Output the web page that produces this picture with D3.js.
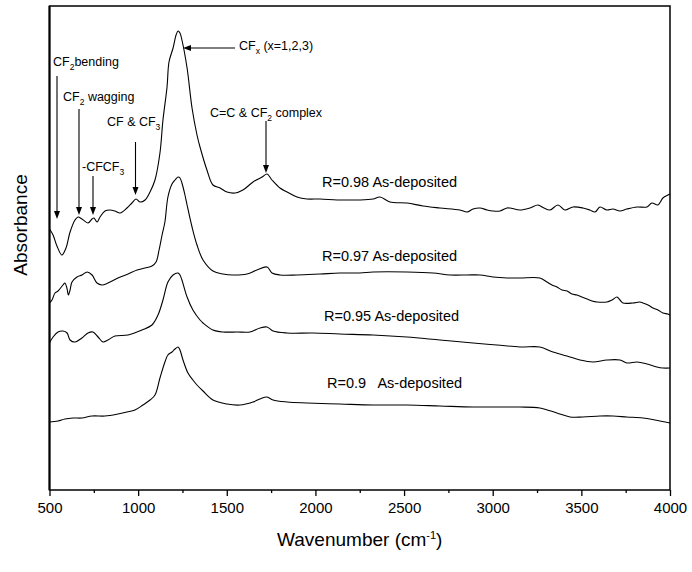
<!DOCTYPE html>
<html>
<head>
<meta charset="utf-8">
<script src="https://cdn.jsdelivr.net/npm/d3@7/dist/d3.min.js"></script>
<style>
  html, body { margin: 0; padding: 0; background: #fff; }
  svg { display: block; }
  text { font-family: "Liberation Sans", Arial, sans-serif; fill: #000; }
</style>
</head>
<body>
<svg id="chart" width="692" height="572"></svg>
<script>
// ---- data (wavenumber cm-1, absorbance a.u., stacked) ----
const majorTicks = [500, 1000, 1500, 2000, 2500, 3000, 3500, 4000];
const minorTicks = [750, 1250, 1750, 2250, 2750, 3250, 3750];

const r098 = [[500,261],[520,255],[542,244],[570,235],[593,242],[616,258],[644,270],[661,273],[683,271],[717,267],[740,271],[751,272],[768,268],[785,273],[813,279],[841,280],[869,279],[898,277],[937,282],[965,287],[988,291],[1010,288],[1039,290],[1067,298],[1095,310],[1123,337],[1140,370],[1163,403],[1174,428],[1197,442],[1214,455],[1225,459],[1236,457],[1247,450],[1276,422],[1304,382],[1332,355],[1349,343],[1388,320],[1422,305],[1462,302],[1501,298],[1546,297],[1591,300],[1648,308],[1699,313],[1727,316],[1755,310],[1800,302],[1840,298],[1896,293],[1952,291],[2026,291],[2122,290],[2212,290],[2251,290],[2325,291],[2364,293],[2420,288],[2516,287],[2607,284],[2702,282],[2815,280],[2855,278],[2889,281],[2928,282],[2968,280],[3001,279],[3041,279],[3080,282],[3097,282],[3154,280],[3210,282],[3255,285],[3289,282],[3323,280],[3368,285],[3407,280],[3453,283],[3509,282],[3548,280],[3577,278],[3605,283],[3644,280],[3678,281],[3718,279],[3757,281],[3814,283],[3870,283],[3898,287],[3932,285],[3960,292],[3988,295],[4000,296]];

const r097 = [[500,187],[514,190],[531,197],[548,199],[576,205],[587,207],[598,202],[607,195],[616,200],[627,208],[655,213],[683,215],[712,218],[740,215],[768,207],[796,205],[830,207],[886,212],[943,216],[994,220],[1039,222],[1078,224],[1101,228],[1118,240],[1135,255],[1151,268],[1168,293],[1191,306],[1208,310],[1225,313],[1236,312],[1247,307],[1264,295],[1276,285],[1304,263],[1332,245],[1366,230],[1422,219],[1479,216],[1535,215],[1614,216],[1670,220],[1727,223],[1755,217],[1800,215],[1896,215],[2026,216],[2138,217],[2251,217],[2325,218],[2516,218],[2663,217],[2759,215],[2855,215],[2928,215],[3001,213],[3080,212],[3154,212],[3266,212],[3306,208],[3334,205],[3362,203],[3391,200],[3419,199],[3447,196],[3475,195],[3503,193],[3532,191],[3560,189],[3588,188],[3644,188],[3673,190],[3701,193],[3718,190],[3735,187],[3791,187],[3830,188],[3847,187],[3876,185],[3904,182],[3932,180],[3960,177],[3988,176],[4000,175]];

const r095 = [[500,147],[520,153],[548,158],[576,159],[599,157],[616,150],[644,148],[683,152],[717,157],[745,158],[774,153],[802,148],[830,150],[869,154],[943,155],[1022,160],[1078,165],[1112,175],[1140,190],[1168,208],[1197,215],[1225,217],[1236,215],[1247,210],[1276,193],[1309,180],[1349,170],[1366,167],[1422,160],[1479,158],[1558,158],[1631,158],[1687,162],[1727,163],[1761,159],[1840,157],[1986,157],[2138,156],[2325,155],[2516,153],[2702,150],[2889,147],[3024,145],[3154,143],[3266,143],[3340,138],[3419,134],[3492,130],[3565,128],[3644,130],[3718,130],[3757,127],[3814,128],[3870,126],[3926,123],[3960,122],[4000,122]];

const r090 = [[500,68],[548,69],[587,71],[633,72],[683,72],[740,74],[813,74],[886,76],[937,78],[982,80],[1027,85],[1067,90],[1095,95],[1123,112],[1151,128],[1168,135],[1191,138],[1208,141],[1225,143],[1236,140],[1253,130],[1281,117],[1309,110],[1332,105],[1366,99],[1422,90],[1501,86],[1574,85],[1648,88],[1687,91],[1727,93],[1761,90],[1840,88],[1952,87],[2138,86],[2325,85],[2516,85],[2702,84],[2889,83],[3024,83],[3154,83],[3266,82],[3362,77],[3436,73],[3509,73],[3605,74],[3678,74],[3757,73],[3847,72],[3915,70],[4000,67]];

const seriesList = [r098, r097, r095, r090];
const seriesLabels = ["R=0.98 As-deposited", "R=0.97 As-deposited", "R=0.95 As-deposited", "R=0.9   As-deposited"];

// ---- layout ----
const svg = d3.select("#chart");
const L = 49.5, R = 670, T = 6, B = 490;
const x = d3.scaleLinear().domain([500, 4000]).range([L, R]);
const y = d3.scaleLinear().domain([0, 484]).range([B, T]);

// curves
const line = d3.line().x(d => x(d[0])).y(d => y(d[1])).curve(d3.curveCatmullRom.alpha(0.5));
svg.append("g").selectAll("path").data(seriesList).join("path")
  .attr("d", line).attr("fill", "none").attr("stroke", "#000").attr("stroke-width", 1.1);

// frame
svg.append("rect").attr("x", L).attr("y", T).attr("width", R - L).attr("height", B - T)
  .attr("fill", "none").attr("stroke", "#000").attr("stroke-width", 1.5);
svg.append("line").attr("x1", L).attr("x2", L).attr("y1", T).attr("y2", B)
  .attr("stroke", "#000").attr("stroke-width", 2);

// x axis
const gx = svg.append("g").attr("transform", `translate(0,${B})`)
  .call(d3.axisBottom(x).tickValues(majorTicks).tickSize(6).tickPadding(6).tickFormat(d3.format("d")));
gx.select(".domain").remove();
gx.selectAll("text").attr("font-size", 15).attr("font-family", "Liberation Sans, Arial, sans-serif");
gx.selectAll("line").attr("stroke-width", 1.3);
const gm = svg.append("g").attr("transform", `translate(0,${B})`)
  .call(d3.axisBottom(x).tickValues(minorTicks).tickSize(3).tickFormat(""));
gm.select(".domain").remove();
gm.selectAll("line").attr("stroke-width", 1.3);

// axis titles
const xt = svg.append("text").attr("x", (L + R) / 2).attr("y", 546).attr("text-anchor", "middle").attr("font-size", 19);
xt.append("tspan").text("Wavenumber (cm");
xt.append("tspan").attr("dy", -7).attr("font-size", 11).text("-1");
xt.append("tspan").attr("dy", 7).text(")");

svg.append("text").attr("transform", "translate(27,225) rotate(-90)")
  .attr("text-anchor", "middle").attr("font-size", 19).text("Absorbance");

// series labels
const labelPos = [[322, 187], [322, 261], [324, 321], [327, 388]];
svg.append("g").selectAll("text").data(seriesLabels).join("text")
  .attr("x", (d, i) => labelPos[i][0]).attr("y", (d, i) => labelPos[i][1])
  .attr("font-size", 14.5).style("white-space", "pre").text(d => d);

// annotations (text with subscripts)
function subText(xp, yp, parts) {
  const t = svg.append("text").attr("x", xp).attr("y", yp).attr("font-size", 12.5).style("white-space", "pre");
  let shifted = false;
  parts.forEach(p => {
    const ts = t.append("tspan").text(p.t);
    if (p.sub) {
      ts.attr("dy", 4).attr("font-size", 8.5);
      shifted = true;
    } else if (shifted) {
      ts.attr("dy", -4);
      shifted = false;
    }
  });
}
subText(53, 66, [{t: "CF"}, {t: "2", sub: true}, {t: "bending"}]);
subText(63, 101, [{t: "CF"}, {t: "2", sub: true}, {t: " wagging"}]);
subText(107, 126, [{t: "CF & CF"}, {t: "3", sub: true}]);
subText(82, 171, [{t: "-CFCF"}, {t: "3", sub: true}]);
subText(239, 50, [{t: "CF"}, {t: "x", sub: true}, {t: " (x=1,2,3)"}]);
subText(210, 117, [{t: "C=C & CF"}, {t: "2", sub: true}, {t: " complex"}]);

function arrowDown(xp, y1, y2) {
  svg.append("line").attr("x1", xp).attr("x2", xp).attr("y1", y1).attr("y2", y2 - 6)
    .attr("stroke", "#000").attr("stroke-width", 1.1);
  svg.append("path").attr("d", `M${xp - 3},${y2 - 8}L${xp + 3},${y2 - 8}L${xp},${y2}Z`).attr("fill", "#000");
}
arrowDown(57, 76, 219);
arrowDown(79, 109, 215);
arrowDown(93, 176, 215);
arrowDown(135.5, 142, 195);
arrowDown(266, 121, 173);
// horizontal arrow to CFx peak
svg.append("line").attr("x1", 235).attr("x2", 189).attr("y1", 48).attr("y2", 48)
  .attr("stroke", "#000").attr("stroke-width", 1.1);
svg.append("path").attr("d", `M191,45L191,51L183,48Z`).attr("fill", "#000");
</script>
</body>
</html>
